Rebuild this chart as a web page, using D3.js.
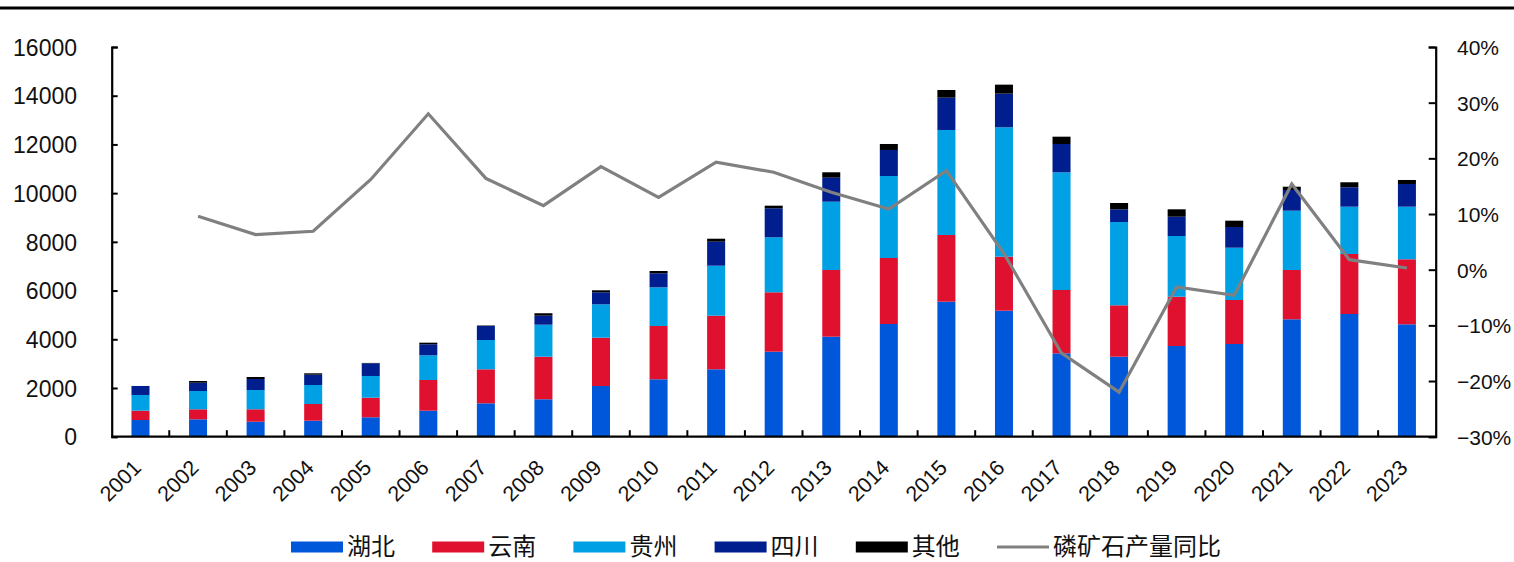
<!DOCTYPE html>
<html>
<head>
<meta charset="utf-8">
<script src="https://cdn.jsdelivr.net/npm/d3@7/dist/d3.min.js"></script>
<style>
  html, body { margin: 0; padding: 0; background: #fff; }
  svg { display: block; }
  .tick-num { font-family: "Liberation Sans", Arial, sans-serif; fill: #111; }
  .legend-text { font-family: "Noto Sans CJK SC", sans-serif; fill: #111; }
</style>
</head>
<body>
<svg id="chart" width="1514" height="562"></svg>
<script>
// Phosphate rock output by province (10k t) and YoY growth of total output
const years = ["2001","2002","2003","2004","2005","2006","2007","2008","2009","2010","2011","2012",
               "2013","2014","2015","2016","2017","2018","2019","2020","2021","2022","2023"];
const hubei   = [685, 714, 616, 657, 797, 1068, 1371, 1536, 2082, 2357, 2767, 3490, 4106, 4627, 5543, 5174, 3424, 3285, 3724, 3806, 4820, 5038, 4615];
const yunnan  = [383, 411, 509, 685, 805, 1260, 1396, 1749, 1983, 2188, 2201, 2439, 2739, 2710, 2739, 2217, 2599, 2110, 2024, 1807, 2024, 2464, 2669];
const guizhou = [645, 751, 792, 780, 891, 1014, 1203, 1314, 1371, 1589, 2053, 2258, 2804, 3367, 4311, 5313, 4833, 3420, 2492, 2147, 2435, 1942, 2160];
const sichuan = [370, 341, 452, 424, 521, 452, 575, 370, 493, 575, 985, 1191, 985, 1068, 1326, 1380, 1162, 521, 792, 850, 850, 797, 932];
const others  = [0, 70, 82, 57, 15, 66, 20, 99, 82, 94, 123, 107, 222, 246, 316, 370, 300, 259, 304, 259, 135, 205, 164];
// YoY growth of phosphate rock output, %
const yoy = [null, 9.6, 6.3, 6.9, 16.2, 28.0, 16.4, 11.5, 18.5, 13.0, 19.3, 17.5, 13.9, 10.9, 17.8, 2.9, -15.0, -22.0, -3.1, -4.6, 15.4, 1.8, 0.3];

const seriesNames = ["湖北", "云南", "贵州", "四川", "其他"];
const lineName = "磷矿石产量同比";
const leftTicks = [0, 2000, 4000, 6000, 8000, 10000, 12000, 14000, 16000];
const rightTicks = [-30, -20, -10, 0, 10, 20, 30, 40];

const colors = ["#0057d9", "#e0112f", "#00a0e4", "#001e8e", "#000000"];
const lineColor = "#808080";

const svg = d3.select("#chart");
const plot = { left: 111.7, right: 1435.7, top: 47, bottom: 436.7 };

// top rule
svg.append("rect").attr("x", 0).attr("y", 6.5).attr("width", 1514).attr("height", 3).attr("fill", "#000");

const x = d3.scaleBand().domain(years).range([plot.left, plot.right])
  .paddingInner(0.687).paddingOuter(0.687 / 2);
const yL = d3.scaleLinear().domain([0, 16000]).range([plot.bottom, plot.top]);
const yR = d3.scaleLinear().domain([-30, 40]).range([plot.bottom, plot.top]);

// stacked bars
const rows = years.map((yr, i) => ({
  year: yr, "湖北": hubei[i], "云南": yunnan[i], "贵州": guizhou[i], "四川": sichuan[i], "其他": others[i]
}));
const stack = d3.stack().keys(seriesNames)(rows);

svg.append("g").selectAll("g").data(stack).join("g")
  .attr("fill", (d, i) => colors[i])
  .selectAll("rect").data(d => d).join("rect")
  .attr("x", d => x(d.data.year))
  .attr("width", x.bandwidth())
  .attr("y", d => yL(d[1]))
  .attr("height", d => Math.max(0, yL(d[0]) - yL(d[1])));

// growth line
const line = d3.line()
  .defined(d => d != null)
  .x((d, i) => x(years[i]) + x.bandwidth() / 2)
  .y(d => yR(d));
svg.append("path").datum(yoy)
  .attr("d", line)
  .attr("fill", "none")
  .attr("stroke", lineColor)
  .attr("stroke-width", 3.2)
  .attr("stroke-linejoin", "miter");

// left axis
const axL = svg.append("g").attr("transform", `translate(${plot.left},0)`)
  .call(d3.axisLeft(yL).tickValues(leftTicks).tickSize(-6).tickPadding(40).tickFormat(d3.format("d")));
axL.select(".domain").attr("stroke", "#000").attr("stroke-width", 2.2);
axL.selectAll(".tick line").attr("stroke", "#000").attr("stroke-width", 2);
axL.selectAll(".tick text").attr("class", "tick-num").attr("font-size", 23)
  .attr("x", 77 - plot.left).attr("dy", "0.36em");

// right axis
const axR = svg.append("g").attr("transform", `translate(${plot.right},0)`)
  .call(d3.axisRight(yR).tickValues(rightTicks).tickSize(-7)
    .tickFormat(d => (d < 0 ? "\u2212" + Math.abs(d) : d) + "%"));
axR.select(".domain").attr("stroke", "#000").attr("stroke-width", 2.2);
axR.selectAll(".tick line").attr("stroke", "#000").attr("stroke-width", 2);
axR.selectAll(".tick text").attr("class", "tick-num").attr("font-size", 21)
  .attr("x", 1457 - plot.right).attr("dy", "0.36em");

// bottom axis: ticks at category boundaries pointing inward
const gB = svg.append("g");
gB.append("line").attr("x1", plot.left).attr("x2", plot.right)
  .attr("y1", plot.bottom).attr("y2", plot.bottom)
  .attr("stroke", "#000").attr("stroke-width", 2.2);
const step = x.step();
gB.selectAll("line.sep").data(years.slice(1)).join("line").attr("class", "sep")
  .attr("x1", d => x(d) - x.paddingInner() * step / 2)
  .attr("x2", d => x(d) - x.paddingInner() * step / 2)
  .attr("y1", plot.bottom).attr("y2", plot.bottom - 6.5)
  .attr("stroke", "#000").attr("stroke-width", 2);
gB.selectAll("text").data(years).join("text")
  .attr("class", "tick-num")
  .attr("font-size", 21.5)
  .attr("text-anchor", "end")
  .attr("transform", d => `translate(${x(d) + x.bandwidth() / 2 + 2},469) rotate(-45)`)
  .text(d => d);

// legend
const legendItems = seriesNames.map((n, i) => ({ name: n, color: colors[i], type: "rect" }))
  .concat([{ name: lineName, color: lineColor, type: "line" }]);
const lg = svg.append("g");
const item = lg.selectAll("g").data(legendItems).join("g")
  .attr("transform", (d, i) => `translate(${291 + i * 141.2},547)`);
item.filter(d => d.type === "rect").append("rect")
  .attr("x", 0).attr("y", -5.5).attr("width", 52).attr("height", 11).attr("fill", d => d.color);
item.filter(d => d.type === "line").append("line")
  .attr("x1", 0).attr("x2", 52).attr("y1", 0).attr("y2", 0)
  .attr("stroke", d => d.color).attr("stroke-width", 3.2);
item.append("text").attr("class", "legend-text")
  .attr("x", 56).attr("y", 7.5).attr("font-size", 24)
  .text(d => d.name);
</script>
</body>
</html>
